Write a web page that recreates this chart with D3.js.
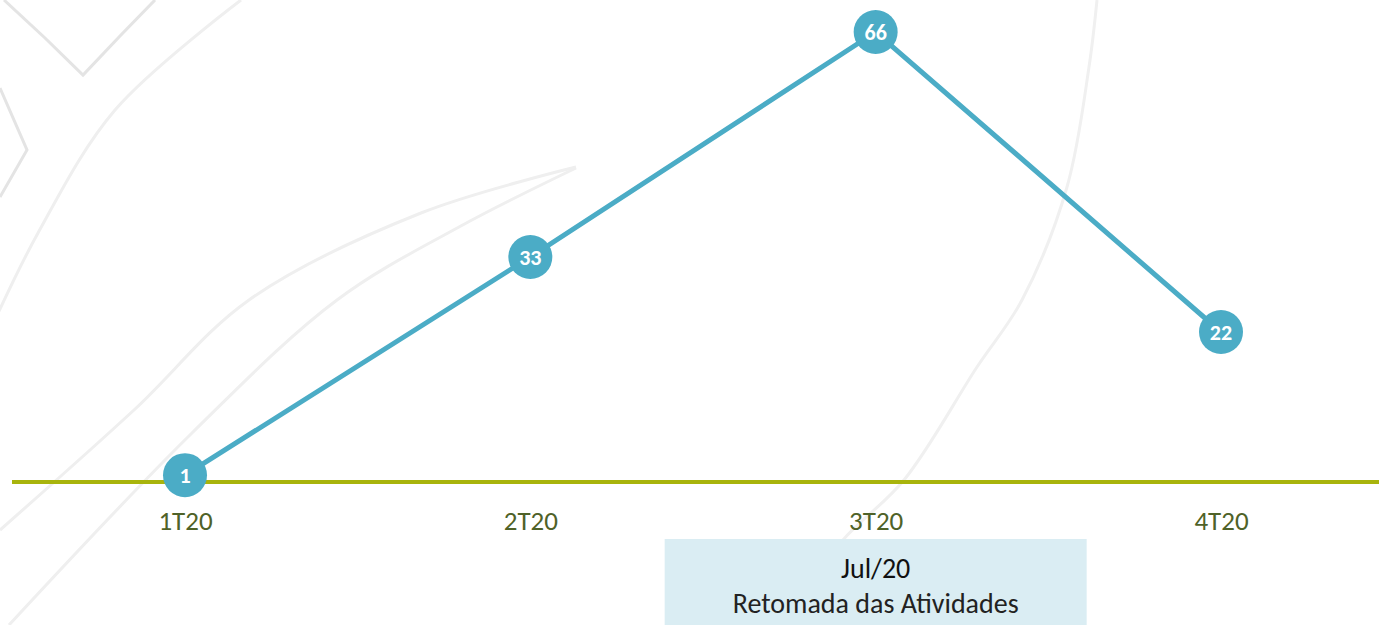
<!DOCTYPE html>
<html>
<head>
<meta charset="utf-8">
<script src="https://cdn.jsdelivr.net/npm/d3@7"></script>
<style>
  html, body { margin: 0; padding: 0; background: #fff; overflow: hidden; }
  svg { display: block; font-family: Carlito, Calibri, Lato, sans-serif; }
</style>
</head>
<body>
<svg id="chart" width="1379" height="625"></svg>
<script>
// quarters and values
const quarters = ["1T20", "2T20", "3T20", "4T20"]
const values = [1, 33, 66, 22]
const note = { at: "3T20", title: "Jul/20", text: "Retomada das Atividades" }

const W = 1379, H = 625
const svg = d3.select("#chart")

// faint background swooshes (decoration only)
const deco = [
  {pts: [[4,0],[45,38],[83,75],[120,36],[155,0]], c: "#e4e4e4", sharp: true},
  {pts: [[0,88],[27,150],[0,197]], c: "#e4e4e4", sharp: true},
  {pts: [[241,0],[115,110],[38,233],[-12,335]], c: "#efefef"},
  {pts: [[576,167],[421,213],[249,300],[134,410],[0,530]], c: "#efefef"},
  {pts: [[576,168],[459,227],[337,300],[192,433],[9,625]], c: "#efefef"},
  {pts: [[1097,0],[1089,67],[1067,187],[1022,300],[977,367],[904,480],[843,540],[800,600],[780,630]], c: "#f0f0f0"}
]
const curve = d3.line().curve(d3.curveCatmullRom.alpha(0.5))
const straight = d3.line()
svg.append("g").selectAll("path").data(deco).join("path")
  .attr("d", d => d.sharp ? straight(d.pts) : curve(d.pts))
  .attr("fill", "none")
  .attr("stroke", d => d.c)
  .attr("stroke-width", 3)

const x = d3.scalePoint().domain(quarters).range([185, 1221])
const y = d3.scaleLinear().domain([0, 66]).range([482, 32])

// note box under 3T20
const boxW = 422
const bx = x(note.at)
svg.append("rect")
  .attr("x", bx - boxW / 2).attr("y", 539)
  .attr("width", boxW).attr("height", 90)
  .attr("fill", "#daedf3")
svg.append("text")
  .attr("x", bx).attr("y", 578)
  .attr("text-anchor", "middle")
  .attr("font-size", 28)
  .attr("fill", "#111")
  .text(note.title)
svg.append("text")
  .attr("x", bx).attr("y", 613)
  .attr("text-anchor", "middle")
  .attr("font-size", 28)
  .attr("fill", "#222")
  .text(note.text)

// baseline axis
const axis = d3.axisBottom(x).tickSize(0).tickPadding(0)
const gx = svg.append("g").attr("transform", `translate(0,${y(0)})`).call(axis)
gx.select(".domain").remove()
gx.append("line")
  .attr("x1", 12).attr("x2", W)
  .attr("stroke", "#a8b40c").attr("stroke-width", 4)
gx.selectAll(".tick text")
  .attr("y", 48)
  .attr("dy", null)
  .attr("font-family", "Carlito, Calibri, Lato, sans-serif")
  .attr("font-size", 27)
  .attr("fill", "#4f6228")

const pts = quarters.map((q, i) => ({q: q, v: values[i]}))

svg.append("path")
  .datum(pts)
  .attr("d", d3.line().x(d => x(d.q)).y(d => y(d.v)))
  .attr("fill", "none")
  .attr("stroke", "#4bacc6")
  .attr("stroke-width", 5)

const dots = svg.append("g").selectAll("g").data(pts).join("g")
  .attr("transform", d => `translate(${x(d.q)},${y(d.v)})`)
dots.append("circle")
  .attr("r", 22)
  .attr("fill", "#4bacc6")
dots.append("text")
  .attr("text-anchor", "middle")
  .attr("dy", "0.36em")
  .attr("font-size", 22)
  .attr("font-weight", "bold")
  .attr("fill", "#fff")
  .text(d => d.v)
</script>
</body>
</html>
